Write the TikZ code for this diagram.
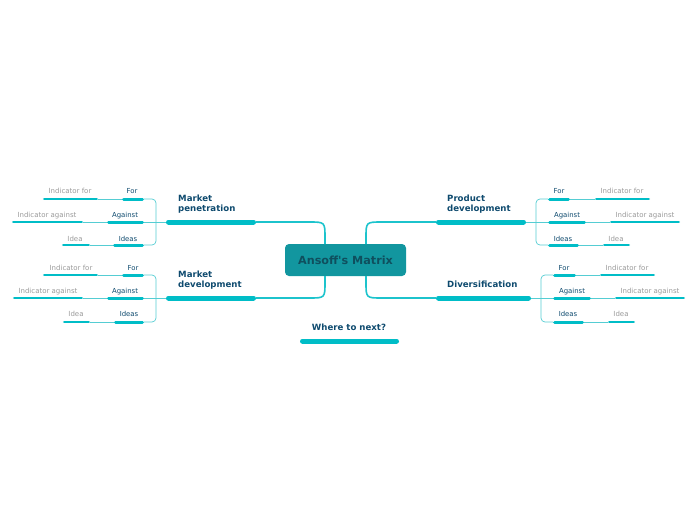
\documentclass[tikz,border=0pt]{standalone}
\usepackage{fontspec}
\setmainfont{DejaVu Sans}
\definecolor{barc}{HTML}{00BDC7}
\definecolor{linec}{HTML}{55CDD3}
\definecolor{curvec}{HTML}{1CC3CC}
\definecolor{lblc}{HTML}{0E4A6E}
\definecolor{leafc}{HTML}{9A9A9A}
\definecolor{centerc}{HTML}{12969F}
\definecolor{centertxt}{HTML}{0F4F5E}
\begin{document}
\begin{tikzpicture}[x=1pt,y=-1pt,
  mainbar/.style={draw=barc,line width=5pt,line cap=round,shorten >=2.5pt,shorten <=2.5pt},
  subbar/.style={draw=barc,line width=3pt,line cap=round,shorten >=1.5pt,shorten <=1.5pt},
  leafbar/.style={draw=barc,line width=2.5pt,line cap=round,shorten >=1.2pt,shorten <=1.2pt},
  thinline/.style={draw=linec,line width=0.7pt},
  curve/.style={draw=curvec,line width=1.6pt},
  mainlbl/.style={font=\fontsize{8.6}{10.5}\selectfont\bfseries,text=lblc,inner sep=0pt,align=left},
  sublbl/.style={font=\fontsize{6.9}{8}\selectfont,text=lblc,inner sep=0pt,anchor=base},
  leaflbl/.style={font=\fontsize{7}{8}\selectfont,text=leafc,inner sep=0pt,anchor=base}
]
\useasboundingbox (0,0) rectangle (697,520);

% central node
\node[fill=centerc,rounded corners=4pt,minimum width=121pt,minimum height=32pt,inner sep=0pt,
  font=\fontsize{11.2}{13}\selectfont\bfseries,text=centertxt] (center) at (345.5,260) {Ansoff\textquotesingle s Matrix};

% ---------- coordinates of main bars ----------
\coordinate (mpL) at (166,222); \coordinate (mpR) at (256,222);
\coordinate (mdL) at (166,298); \coordinate (mdR) at (256,298);
\coordinate (pdL) at (436,222); \coordinate (pdR) at (526,222);
\coordinate (dvL) at (436,298); \coordinate (dvR) at (531,298);
\coordinate (wnL) at (300,341); \coordinate (wnR) at (399,341);

% curves from center
\coordinate (cTL) at (325,244); \coordinate (cBL) at (325,276);
\coordinate (cTR) at (366,244); \coordinate (cBR) at (366,276);
\draw[curve] (cTL) -- (325,238) .. controls (325,222) .. (309,222) -- (mpR);
\draw[curve] (cBL) -- (325,282) .. controls (325,298) .. (309,298) -- (mdR);
\draw[curve] (cTR) -- (366,238) .. controls (366,222) .. (382,222) -- (pdL);
\draw[curve] (cBR) -- (366,282) .. controls (366,298) .. (382,298) -- (dvL);

% main bars
\draw[mainbar] (mpL) -- (mpR);
\draw[mainbar] (mdL) -- (mdR);
\draw[mainbar] (pdL) -- (pdR);
\draw[mainbar] (dvL) -- (dvR);
\draw[mainbar] (wnL) -- (wnR);

% main labels (base = baseline of last line)
\node[mainlbl,anchor=base west] (mpT) at (178,211.5) {Market\\penetration};
\node[mainlbl,anchor=base west] (mdT) at (178,287.5) {Market\\development};
\node[mainlbl,anchor=base west] (pdT) at (447,211.5) {Product\\development};
\node[mainlbl,anchor=base west] (dvT) at (447,287.5) {Diversification};
\node[mainlbl,anchor=base] (wnT) at (349,330.5) {Where to next?};

% ======== Market penetration (left, y=222) ========
\coordinate (mpB) at (156,222);
\coordinate (mpFL) at (122,199); \coordinate (mpFR) at (144,199);
\coordinate (mpAL) at (107,222); \coordinate (mpAR) at (144,222);
\coordinate (mpIL) at (113,245); \coordinate (mpIR) at (144,245);
\coordinate (mpfL) at (43,199);  \coordinate (mpfR) at (98,199);
\coordinate (mpaL) at (12,222);  \coordinate (mpaR) at (83,222);
\coordinate (mpiL) at (62,245);  \coordinate (mpiR) at (90,245);
\draw[thinline] (mpL) -- (mpB);
\draw[thinline,rounded corners=4pt] (mpFR) -| (mpB) |- (mpIR);
\draw[thinline] (mpAR) -- (mpB);
\draw[thinline] (mpFL) -- (mpfR);
\draw[thinline] (mpAL) -- (mpaR);
\draw[thinline] (mpIL) -- (mpiR);
\draw[subbar] (mpFL) -- (mpFR); \draw[subbar] (mpAL) -- (mpAR); \draw[subbar] (mpIL) -- (mpIR);
\draw[leafbar] (mpfL) -- (mpfR); \draw[leafbar] (mpaL) -- (mpaR); \draw[leafbar] (mpiL) -- (mpiR);
\node[sublbl] (mpFt) at (132,193) {For};
\node[sublbl] (mpAt) at (125,217) {Against};
\node[sublbl] (mpIt) at (128,241) {Ideas};
\node[leaflbl] (mpft) at (70,193) {Indicator for};
\node[leaflbl] (mpat) at (47,217) {Indicator against};
\node[leaflbl] (mpit) at (75,241) {Idea};

% ======== Market development (left, y=298) ========
\coordinate (mdB) at (156,298);
\coordinate (mdFL) at (122,275); \coordinate (mdFR) at (144,275);
\coordinate (mdAL) at (107,298); \coordinate (mdAR) at (144,298);
\coordinate (mdIL) at (114,322); \coordinate (mdIR) at (144,322);
\coordinate (mdfL) at (43,275);  \coordinate (mdfR) at (98,275);
\coordinate (mdaL) at (13,298);  \coordinate (mdaR) at (83,298);
\coordinate (mdiL) at (63,322);  \coordinate (mdiR) at (90,322);
\draw[thinline] (mdL) -- (mdB);
\draw[thinline,rounded corners=4pt] (mdFR) -| (mdB) |- (mdIR);
\draw[thinline] (mdAR) -- (mdB);
\draw[thinline] (mdFL) -- (mdfR);
\draw[thinline] (mdAL) -- (mdaR);
\draw[thinline] (mdIL) -- (mdiR);
\draw[subbar] (mdFL) -- (mdFR); \draw[subbar] (mdAL) -- (mdAR); \draw[subbar] (mdIL) -- (mdIR);
\draw[leafbar] (mdfL) -- (mdfR); \draw[leafbar] (mdaL) -- (mdaR); \draw[leafbar] (mdiL) -- (mdiR);
\node[sublbl] (mdFt) at (133,270) {For};
\node[sublbl] (mdAt) at (125,293) {Against};
\node[sublbl] (mdIt) at (129,316.5) {Ideas};
\node[leaflbl] (mdft) at (71,270) {Indicator for};
\node[leaflbl] (mdat) at (48,293) {Indicator against};
\node[leaflbl] (mdit) at (76,316.5) {Idea};

% ======== Product development (right, y=222) ========
\coordinate (pdB) at (536,222);
\coordinate (pdFL) at (548,199); \coordinate (pdFR) at (570,199);
\coordinate (pdAL) at (548,222); \coordinate (pdAR) at (586,222);
\coordinate (pdIL) at (548,245); \coordinate (pdIR) at (579,245);
\coordinate (pdfL) at (595,199); \coordinate (pdfR) at (650,199);
\coordinate (pdaL) at (610,222); \coordinate (pdaR) at (680,222);
\coordinate (pdiL) at (603,245); \coordinate (pdiR) at (630,245);
\draw[thinline] (pdR) -- (pdB);
\draw[thinline,rounded corners=4pt] (pdFL) -| (pdB) |- (pdIL);
\draw[thinline] (pdB) -- (pdAL);
\draw[thinline] (pdFR) -- (pdfL);
\draw[thinline] (pdAR) -- (pdaL);
\draw[thinline] (pdIR) -- (pdiL);
\draw[subbar] (pdFL) -- (pdFR); \draw[subbar] (pdAL) -- (pdAR); \draw[subbar] (pdIL) -- (pdIR);
\draw[leafbar] (pdfL) -- (pdfR); \draw[leafbar] (pdaL) -- (pdaR); \draw[leafbar] (pdiL) -- (pdiR);
\node[sublbl] (pdFt) at (559,193) {For};
\node[sublbl] (pdAt) at (567,217) {Against};
\node[sublbl] (pdIt) at (563,241) {Ideas};
\node[leaflbl] (pdft) at (622,193) {Indicator for};
\node[leaflbl] (pdat) at (645,217) {Indicator against};
\node[leaflbl] (pdit) at (616,241) {Idea};

% ======== Diversification (right, y=298) ========
\coordinate (dvB) at (541,298);
\coordinate (dvFL) at (553,275); \coordinate (dvFR) at (576,275);
\coordinate (dvAL) at (553,298); \coordinate (dvAR) at (591,298);
\coordinate (dvIL) at (553,322); \coordinate (dvIR) at (584,322);
\coordinate (dvfL) at (600,275); \coordinate (dvfR) at (655,275);
\coordinate (dvaL) at (615,298); \coordinate (dvaR) at (685,298);
\coordinate (dviL) at (608,322); \coordinate (dviR) at (635,322);
\draw[thinline] (dvR) -- (dvB);
\draw[thinline,rounded corners=4pt] (dvFL) -| (dvB) |- (dvIL);
\draw[thinline] (dvB) -- (dvAL);
\draw[thinline] (dvFR) -- (dvfL);
\draw[thinline] (dvAR) -- (dvaL);
\draw[thinline] (dvIR) -- (dviL);
\draw[subbar] (dvFL) -- (dvFR); \draw[subbar] (dvAL) -- (dvAR); \draw[subbar] (dvIL) -- (dvIR);
\draw[leafbar] (dvfL) -- (dvfR); \draw[leafbar] (dvaL) -- (dvaR); \draw[leafbar] (dviL) -- (dviR);
\node[sublbl] (dvFt) at (564,270) {For};
\node[sublbl] (dvAt) at (572,293) {Against};
\node[sublbl] (dvIt) at (568,316.5) {Ideas};
\node[leaflbl] (dvft) at (627,270) {Indicator for};
\node[leaflbl] (dvat) at (650,293) {Indicator against};
\node[leaflbl] (dvit) at (621,316.5) {Idea};
\end{tikzpicture}
\end{document}
